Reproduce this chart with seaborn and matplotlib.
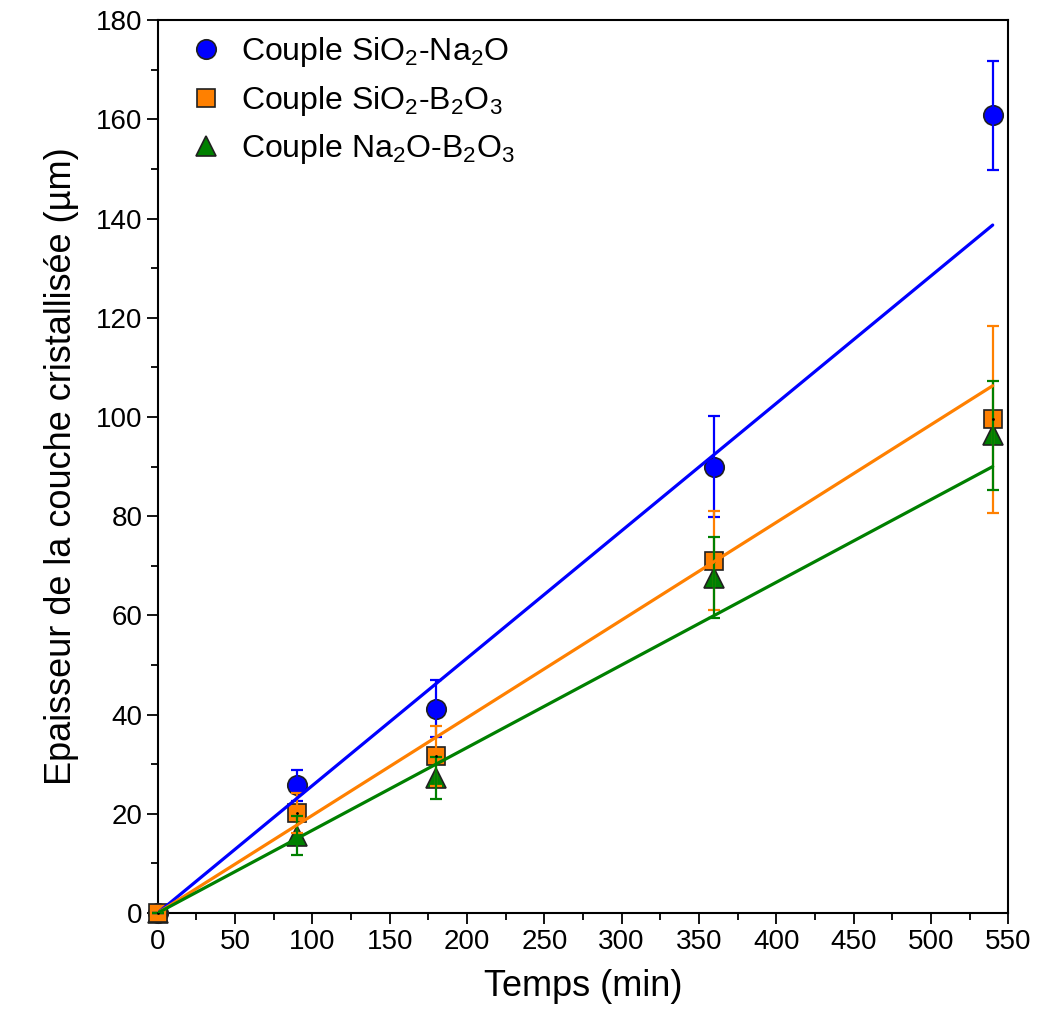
import matplotlib
matplotlib.use("Agg")
import matplotlib.pyplot as plt
from matplotlib.ticker import MultipleLocator
import seaborn as sns
import pandas as pd

# ---- data ----
temps = [0, 90, 180, 360, 540]
sio2_na2o = [0, 25.7, 41.2, 90.0, 160.8]
sio2_na2o_err = [0, 3.1, 5.8, 10.2, 11.0]
sio2_b2o3 = [0, 20.2, 31.6, 71.0, 99.5]
sio2_b2o3_err = [0, 4.0, 6.0, 10.0, 18.8]
na2o_b2o3 = [0, 15.6, 27.2, 67.6, 96.3]
na2o_b2o3_err = [0, 4.0, 4.2, 8.2, 11.0]
fit_x = [0, 540]
fit_sio2_na2o = [0, 138.7]
fit_sio2_b2o3 = [0, 106.3]
fit_na2o_b2o3 = [0, 90.0]

labels = ["Couple SiO$_2$-Na$_2$O", "Couple SiO$_2$-B$_2$O$_3$", "Couple Na$_2$O-B$_2$O$_3$"]
colors = ["#0000ff", "#ff8000", "#008000"]

sns.set_style("ticks")
plt.rcParams['font.family'] = ['Liberation Sans', 'DejaVu Sans']
plt.rcParams['mathtext.default'] = 'regular'
plt.rcParams['text.color'] = 'black'
plt.rcParams['axes.labelcolor'] = 'black'
plt.rcParams['xtick.color'] = 'black'
plt.rcParams['ytick.color'] = 'black'

fig = plt.figure(figsize=(10.59, 10.11), dpi=100)
ax = fig.add_axes([0.149, 0.097, 0.803, 0.883])

fits = [fit_sio2_na2o, fit_sio2_b2o3, fit_na2o_b2o3]
for f, c in zip(fits, colors):
    df = pd.DataFrame({"x": fit_x, "y": f})
    sns.lineplot(data=df, x="x", y="y", ax=ax, color=c, lw=2.3, zorder=6)

series = [(sio2_na2o, sio2_na2o_err, 'o', 14, 3.0),
          (sio2_b2o3, sio2_b2o3_err, 's', 12.5, 3.4),
          (na2o_b2o3, na2o_b2o3_err, '^', 15, 3.2)]
handles = []
for (vals, err, m, ms, z), c, lab in zip(series, colors, labels):
    h, = ax.plot(temps, vals, linestyle='none', marker=m, markersize=ms, markerfacecolor=c,
                 markeredgecolor='#202020', markeredgewidth=1.2, label=lab, zorder=z, clip_on=False)
    ax.errorbar(temps, vals, yerr=err, fmt='none', ecolor=c, elinewidth=1.6, capsize=4.5, capthick=1.6,
                zorder=4, clip_on=False)
    handles.append(h)
ax.plot(temps, sio2_b2o3, linestyle='none', marker='.', markersize=2, color='black', zorder=5, clip_on=False)

ax.set_xlim(0, 550)
ax.set_ylim(0, 180)
ax.xaxis.set_major_locator(MultipleLocator(50))
ax.xaxis.set_minor_locator(MultipleLocator(25))
ax.yaxis.set_major_locator(MultipleLocator(20))
ax.yaxis.set_minor_locator(MultipleLocator(10))
ax.tick_params(which='both', direction='out', width=1.3, colors='black', labelsize=20)
ax.tick_params(which='major', length=8)
ax.tick_params(which='minor', length=5)
ax.tick_params(axis='y', pad=3)
for s in ax.spines.values():
    s.set_linewidth(1.5)
    s.set_color('black')

ax.set_xlabel("Temps (min)", fontsize=26, labelpad=10, color='black')
ax.set_ylabel("Epaisseur de la couche cristallisée (µm)", fontsize=26, labelpad=12, color='black')

leg = ax.legend(handles=handles, loc='upper left', frameon=False, fontsize=23,
                handletextpad=0.3, labelspacing=0.45, borderaxespad=0.3, bbox_to_anchor=(0.0, 1.008),
                handlelength=1.6)
for t in leg.get_texts():
    t.set_color('black')

fig.savefig("out.png", dpi=100)
